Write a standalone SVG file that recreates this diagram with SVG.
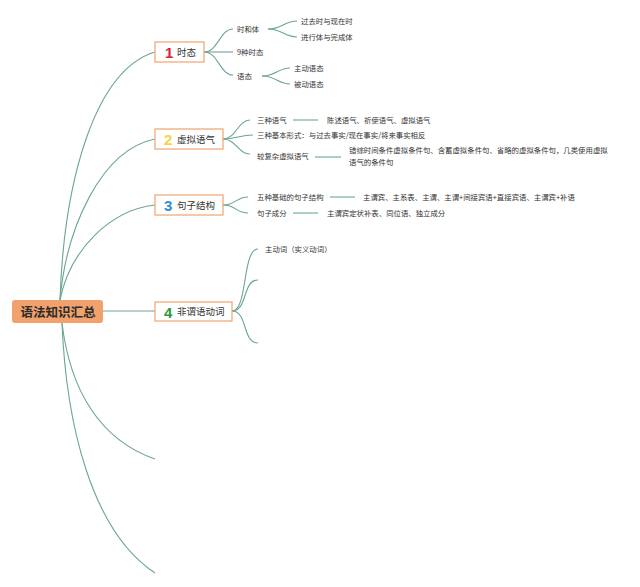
<svg xmlns="http://www.w3.org/2000/svg" width="640" height="587" viewBox="0 0 640 587">
<style>
.c{fill:none;stroke:#6BA596;stroke-width:1.1}
.t{font-family:"Noto Sans CJK SC","Liberation Sans",sans-serif;font-size:7.4px;fill:#333}
.b{fill:#fff;stroke:#F0A36E;stroke-width:1.2}
.bt{font-family:"Noto Sans CJK SC","Liberation Sans",sans-serif;font-size:9.5px;fill:#333}
.n{font-family:"Liberation Sans",Arial,sans-serif;font-weight:bold;font-size:15px}
</style>
<rect width="640" height="587" fill="#fff"/>
<g id="connectors">
<path class="c" d="M60,300 C64,180 95,70 155,52"/>
<path class="c" d="M60,300 C66,230 100,150 155,139"/>
<path class="c" d="M60,300 C70,250 110,210 155,205"/>
<path class="c" d="M103,311 L155,311"/>
<path class="c" d="M62,323 C70,390 100,440 155,459"/>
<path class="c" d="M62,323 C66,420 90,530 155,573"/>
<path class="c" d="M204,52 C218,52 220,29 233,29"/>
<path class="c" d="M204,52 L233,52"/>
<path class="c" d="M204,52 C218,52 220,75 233,75"/>
<path class="c" d="M268,29 C282,29 284,21 297,21"/>
<path class="c" d="M268,29 C282,29 284,37 297,37"/>
<path class="c" d="M262,76 C276,76 278,68 290,68"/>
<path class="c" d="M262,76 C276,76 278,84 290,84"/>
<path class="c" d="M223,139 C236,139 238,120 250,120"/>
<path class="c" d="M223,139 C236,139 240,135 253,135"/>
<path class="c" d="M223,139 C236,139 238,154 250,154"/>
<path class="c" d="M293,120 L318,120"/>
<path class="c" d="M315,157 L341,157"/>
<path class="c" d="M223,205 C236,205 236,197 248,197"/>
<path class="c" d="M223,205 C236,205 236,213 248,213"/>
<path class="c" d="M330,197 L355,197"/>
<path class="c" d="M293,213 L318,213"/>
<path class="c" d="M232,311 C248,311 242,249 258,249"/>
<path class="c" d="M232,311 C248,311 242,280 258,280"/>
<path class="c" d="M232,311 C248,311 242,343 258,343"/>
</g>
<g id="root">
<rect x="12" y="300" width="91" height="23" rx="3" fill="#F1A26C"/>
<text x="58" y="316.5" text-anchor="middle" font-family="'Noto Sans CJK SC',sans-serif" font-size="12.5" font-weight="bold" fill="#2b2b2b">语法知识汇总</text>
</g>
<g id="b1">
<rect class="b" x="155" y="42" width="49" height="20"/>
<text class="n" x="165" y="58" fill="#D32430">1</text>
<text class="bt" x="177" y="55.5">时态</text>
</g>
<g id="b2">
<rect class="b" x="155" y="129" width="68" height="20"/>
<text class="n" x="164" y="145" fill="#F4D548">2</text>
<text class="bt" x="177" y="142.5">虚拟语气</text>
</g>
<g id="b3">
<rect class="b" x="155" y="195" width="68" height="20"/>
<text class="n" x="164" y="211" fill="#2D8ED6">3</text>
<text class="bt" x="177" y="208.5">句子结构</text>
</g>
<g id="b4">
<rect class="b" x="155" y="302" width="77" height="19"/>
<text class="n" x="164" y="317.5" fill="#2E9A3B">4</text>
<text class="bt" x="177" y="315">非谓语动词</text>
</g>
<g id="n1-children">
<text class="t" x="237" y="32">时和体</text>
<text class="t" x="237" y="55">9种时态</text>
<text class="t" x="237" y="79">语态</text>
<text class="t" x="301" y="24">过去时与现在时</text>
<text class="t" x="301" y="40">进行体与完成体</text>
<text class="t" x="294" y="71">主动语态</text>
<text class="t" x="294" y="87">被动语态</text>
</g>
<g id="n2-children">
<text class="t" x="257" y="123">三种语气</text>
<text class="t" x="257" y="138">三种基本形式：与过去事实/现在事实/将来事实相反</text>
<text class="t" x="257" y="159">较复杂虚拟语气</text>
<text class="t" x="327" y="123">陈述语气、祈使语气、虚拟语气</text>
<text class="t" x="349" y="153">错综时间条件虚拟条件句、含蓄虚拟条件句、省略的虚拟条件句，几类使用虚拟</text>
<text class="t" x="349" y="165">语气的条件句</text>
</g>
<g id="n3-children">
<text class="t" x="257" y="200">五种基础的句子结构</text>
<text class="t" x="257" y="216">句子成分</text>
<text class="t" x="363" y="200">主谓宾、主系表、主谓、主谓+间接宾语+直接宾语、主谓宾+补语</text>
<text class="t" x="327" y="216">主谓宾定状补表、同位语、独立成分</text>
</g>
<g id="n4-children">
<text class="t" x="265" y="252">主动词（实义动词）</text>
</g>
</svg>
